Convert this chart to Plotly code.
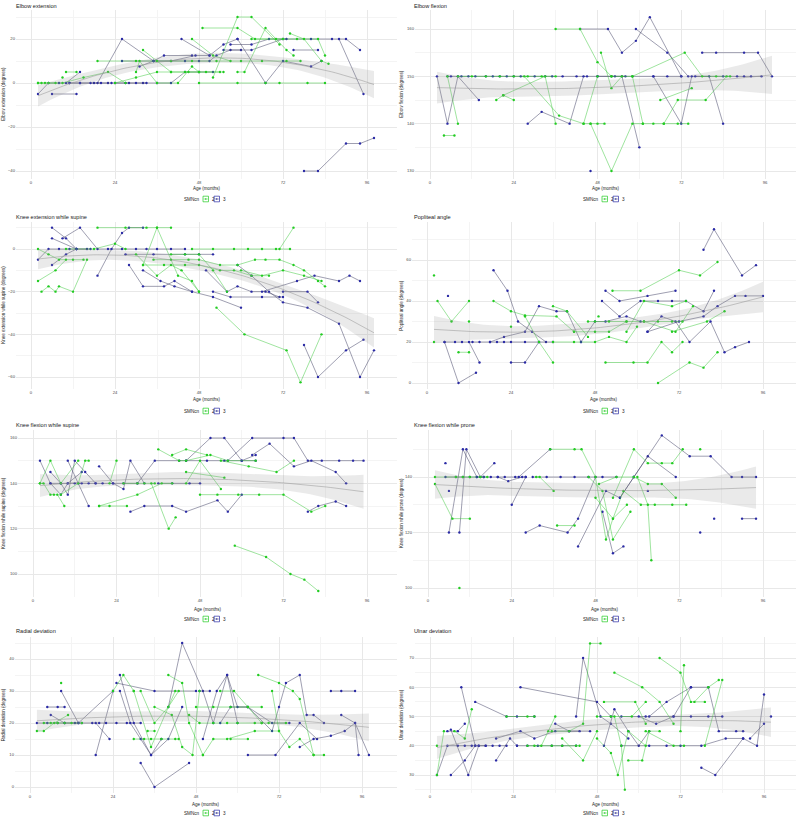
import numpy as np
import plotly.graph_objects as go

W, H = 798, 825
FONT = "Liberation Sans, Arial, sans-serif"

TITLES = ["Elbow extension", "Elbow flexion", "Knee extension while supine", "Popliteal angle",
          "Knee flexion while supine", "Knee flexion while prone", "Radial deviation", "Ulnar deviation"]
YTITLES = [t + " (degrees)" for t in TITLES]
XTITLE = "Age (months)"
LEGEND_TITLE = "SMNcn"
GROUPS = ["2", "3"]

# ---------------- data: (age in months, angle in degrees) per patient ----------------
EE2 = [
    [(2, 0), (3, 0), (4, 0), (5, 0), (7, 0)],
    [(10, 5), (13, 5)],
    [(9, 2.5)],
    [(19, 10), (30, 10), (40, 10), (46, 10), (53, 10), (60, 10), (66, 10), (73, 10), (77, 10)],
    [(30, 5), (31, 10), (36, 0), (42, 0), (46, 7.5), (48, 5), (54, 5)],
    [(32, 15), (36, 10), (40, 5), (45, 5), (50, 5), (55, 5)],
    [(46, 20), (52, 12.5), (57, 10)],
    [(49, 25), (59, 25), (64, 20), (72, 20)],
    [(52, 2.5), (59, 30), (63, 30), (71, 17.5)],
    [(48, 0), (59, 0), (67, 0), (71, 0), (79, 0), (84, 0)],
    [(59, 5), (61, 5), (67, 25), (73, 15), (75, 12.5)],
    [(63, 20), (70, 20), (76, 20), (82, 20), (84, 12.5)],
    [(74, 22.5), (78, 20), (83, 10), (85, 8.75)],
    [(24, 0), (30, 2.5), (36, 5), (40, 5), (44, 5), (48, 5)],
    [(2, 0), (9, 0), (15, 2.5), (22, 5), (27, 0)],
]
EE3 = [
    [(2, -5), (5, 0), (8, 0), (11, 0), (14, 0), (18, 0), (22, 0)],
    [(6, -5), (13, -5)],
    [(10, 0), (14, 5)],
    [(19, 0), (26, 20), (35, 10), (38, 12.5), (46, 12.5)],
    [(26, 10), (35, 10), (44, 10), (48, 10), (51, 10), (53, 12.5), (57, 15), (60, 15)],
    [(24, 0), (28, 0), (32, 0), (36, 0), (40, 0), (44, 5), (48, 5), (52, 5)],
    [(43, 20), (51, 12.5), (55, 17.5), (59, 20)],
    [(59, 20), (67, 0), (72, 10), (80, 7.5), (83, 10)],
    [(55, 15), (63, 15), (72, 20), (80, 20), (86, 20), (90, 20), (94, 15)],
    [(75, 15), (82, 15)],
    [(88, 20), (95, -5)],
    [(78, -40), (82, -40), (90, -27.5), (94, -27.5), (98, -25)],
    [(31, 7.5), (35, 10), (40, 10), (47, 12.5), (51, 12.5)],
    [(57, 17.5), (63, 17.5), (68, 20), (73, 20)],
    [(11, 0), (14, 0), (17, 0), (20, 0), (23, 0), (27, 0), (30, 0), (33, 0)],
]

EF2 = [
    [(4, 137.5), (7, 137.5)],
    [(5, 150), (8, 140)],
    [(19, 145), (21, 146), (24, 145)],
    [(21, 146), (33, 150), (36, 140)],
    [(27, 150), (37, 141.7), (44, 140), (48, 150)],
    [(36, 160), (43, 160), (48, 153), (52, 150)],
    [(49, 155), (52, 147.5), (55, 150)],
    [(46, 140), (52, 130), (58, 140), (61, 140), (64, 140), (67, 140), (71, 140), (74, 140)],
    [(52, 150), (58, 150), (61, 140)],
    [(58, 150), (73, 155), (78, 150), (82, 150), (86, 150)],
    [(66, 145), (75, 147.5)],
    [(67, 140), (71, 145), (79, 145), (85, 150)],
    [(8, 150), (12, 150), (16, 150), (20, 150), (24, 150), (28, 150), (32, 150), (36, 150)],
    [(44, 140), (46, 140), (48, 140), (50, 140)],
]
EF3 = [
    [(2, 150), (5, 140), (8, 150), (14, 145)],
    [(5, 150), (6, 150), (9, 150), (11, 150), (13, 150), (16, 150), (18, 150), (20, 150), (22, 150),
     (24, 150), (26, 150), (30, 150), (33, 150), (35, 150), (38, 150), (42, 150), (45, 150), (48, 150),
     (53, 150), (56, 150)],
    [(28, 140), (32, 142.5), (40, 140), (44, 150)],
    [(43, 160), (51, 160), (55, 155), (59, 157.5), (63, 162.5), (72, 150)],
    [(59, 160), (68, 155), (74, 150)],
    [(55, 150), (60, 135)],
    [(64, 150), (72, 140), (75, 150), (80, 150), (84, 140)],
    [(78, 155), (82, 155), (90, 155), (94, 155), (98, 150)],
    [(46, 130)],
    [(76, 150), (84, 150), (88, 150), (90, 150), (92, 150), (95, 150)],
    [(48, 150), (52, 150), (58, 150), (64, 150), (68, 150), (72, 150)],
]

KES2 = [
    [(2, 0), (5, -2.5), (8, -5), (12, -5), (15, -5)],
    [(2, -15), (7, -10), (10, -5)],
    [(3, -20), (5, -17.5), (7, -20), (8, -17.5), (12, -20), (16, -5)],
    [(19, 10), (27, 10), (33, 10), (36, 10), (40, 10)],
    [(10, 0), (18, 0), (24, 2.5), (27, 0)],
    [(30, -2.5), (36, -12.5), (40, -7.5), (43, -10), (48, -20)],
    [(32, -7.5), (36, 10), (42, -12.5), (46, -15), (48, -20)],
    [(32, -7.5), (38, -7.5), (44, -7.5), (48, -7.5), (54, -10), (58, -10), (63, -12.5), (68, -12.5)],
    [(35, -5), (40, -5), (45, -5), (48, -5), (54, -7.5), (59, -7.5), (64, -5), (67, -5), (71, -5),
     (75, -7.5), (78, -10), (82, -15), (84, -17.5)],
    [(46, 0), (52, 0), (58, 0), (62, 0), (66, 0), (70, 0), (74, 0)],
    [(53, -27.5), (61, -40), (73, -47.5), (77, -62.5), (83, -40)],
    [(71, 0), (75, 10)],
    [(60, -10), (66, -12.5), (72, -10), (78, -12.5), (83, -15)],
    [(40, -2.5), (44, -2.5), (48, -2.5), (52, -10), (56, -20)],
]
KES3 = [
    [(2, -5), (5, 0), (8, 0), (11, 0), (13, 0), (16, 0)],
    [(6, 10), (10, 5), (13, 0), (17, 0)],
    [(6, 5), (13, 0)],
    [(6, -7.5), (10, -2.5), (13, 0)],
    [(9, 5), (14, 10), (19, 0), (22, 0), (26, 0), (30, 0), (33, 0), (36, 0), (40, 0), (44, 0)],
    [(19, -12.5), (23, 0), (26, 7.5), (28, 10), (32, 10)],
    [(28, -7.5), (32, -17.5), (38, -17.5), (41, -15), (46, -20)],
    [(27, -2.5), (35, -2.5), (44, -2.5), (48, -2.5), (52, -2.5)],
    [(32, -10), (37, -15), (41, -17.5), (46, -20), (52, -22.5), (60, -27.5)],
    [(50, -10), (56, -20), (59, -17.5), (63, -20), (67, -20), (71, -22.5)],
    [(52, -20), (57, -22.5), (66, -22.5), (72, -22.5)],
    [(59, -7.5), (63, -12.5), (68, -20), (72, -25), (79, -27.5), (88, -35), (94, -60), (98, -47.5)],
    [(66, -20), (76, -15), (81, -12.5), (88, -15), (91, -12.5), (94, -15)],
    [(72, -20), (79, -20), (82, -25)],
    [(78, -45), (82, -60), (90, -47.5), (95, -42.5)],
]

POP2 = [
    [(2, 52.5)],
    [(2, 20)],
    [(3, 40), (7, 30), (12, 40)],
    [(9, 15), (12, 15)],
    [(12, 30)],
    [(19, 40), (24, 35), (28, 33), (37, 32.5), (42, 25)],
    [(24, 27.5)],
    [(28, 32.5), (32, 20), (36, 10)],
    [(36, 37.5), (40, 35), (46, 22.5)],
    [(36, 20), (42, 20), (48, 20), (52, 22.5), (57, 20), (60, 27.5)],
    [(42, 25), (48, 25), (52, 25), (57, 30)],
    [(46, 30), (48, 30), (52, 30), (57, 30), (62, 30), (66, 30), (70, 30), (73, 30)],
    [(49, 32.5)],
    [(53, 45), (61, 45), (72, 55), (78, 52.5), (83, 59)],
    [(51, 10), (59, 10), (63, 10), (67, 20), (70, 15), (73, 20)],
    [(66, 0), (75, 10), (79, 7.5), (83, 15)],
    [(57, 25), (62, 40), (70, 37.5), (74, 40)],
    [(62, 30), (71, 25), (76, 37.5)],
    [(70, 25), (80, 30), (85, 35)],
]
POP3 = [
    [(5, 20), (9, 0), (14, 5)],
    [(6, 42.5)],
    [(5, 20), (8, 20), (10, 20), (13, 20), (15, 20), (18, 20), (20, 20), (22, 20), (24, 20), (28, 20), (32, 20)],
    [(12, 20), (15, 10)],
    [(19, 55), (23, 45), (26, 30), (30, 25), (34, 20)],
    [(18, 20), (22, 22.5), (28, 25), (32, 37.5), (37, 35), (40, 35), (44, 20)],
    [(24, 10), (28, 10), (32, 20), (36, 20)],
    [(44, 20), (48, 30), (51, 30), (57, 32.5), (61, 30)],
    [(51, 45), (55, 40), (63, 42.5), (71, 45)],
    [(50, 40), (55, 32.5), (61, 40), (66, 40), (70, 40), (74, 40), (79, 35), (82, 45)],
    [(63, 25), (67, 32.5), (71, 30), (75, 20), (81, 30), (85, 15), (88, 17.5), (92, 20)],
    [(63, 25), (72, 30), (79, 32.5), (83, 37.5), (88, 42.5), (91, 42.5), (96, 42.5)],
    [(79, 65), (82, 75), (90, 52.5), (94, 57.5)],
]

KFS2 = [
    [(2, 140), (3, 140), (5, 135), (6, 135), (7, 135), (9, 130)],
    [(2, 140), (5, 150), (8, 140), (13, 150)],
    [(8, 135), (13, 140), (15, 150), (16, 150)],
    [(19, 130), (22, 130), (27, 130)],
    [(22, 140), (24, 150)],
    [(19, 130), (30, 135), (37, 140), (40, 140)],
    [(26, 140), (30, 140), (32, 140), (35, 140)],
    [(36, 155), (42, 150), (44, 150), (51, 152.5), (56, 150), (64, 150)],
    [(34, 140), (39, 120), (41, 125)],
    [(40, 152.5), (44, 155), (50, 152.5)],
    [(44, 145), (55, 142.5)],
    [(44, 140), (48, 150), (54, 137.5)],
    [(48, 135), (53, 135), (59, 135), (65, 135), (72, 135), (80, 127.5), (84, 130)],
    [(58, 112.5), (67, 107.5), (74, 100), (78, 97.5), (82, 92.5)],
    [(54, 150), (62, 147.5), (70, 145), (75, 150)],
]
KFS3 = [
    [(2, 150), (5, 140), (8, 135), (10, 140), (14, 145)],
    [(5, 145), (8, 140), (10, 135), (12, 150), (15, 145), (18, 140)],
    [(5, 140), (8, 140), (10, 140), (12, 140), (14, 140), (16, 140), (18, 140), (20, 140), (23, 140), (26, 140), (30, 140)],
    [(10, 150), (13, 140), (16, 130)],
    [(19, 147.5), (23, 140), (26, 137.5), (28, 150), (32, 140)],
    [(28, 127.5), (32, 130), (40, 130), (44, 127.5), (53, 132.5), (56, 127.5), (60, 135)],
    [(30, 140), (35, 150), (42, 150), (44, 150), (50, 150), (55, 150), (60, 150), (64, 150)],
    [(44, 150), (51, 160), (55, 160), (60, 150), (64, 152.5)],
    [(56, 150), (63, 160), (72, 160), (75, 160), (79, 150), (83, 150), (88, 150), (92, 150), (95, 150)],
    [(63, 152.5), (68, 157.5), (75, 147.5), (80, 150), (87, 145), (90, 140)],
    [(79, 127.5), (82, 130), (87, 132), (90, 130)],
    [(36, 140), (40, 140), (45, 140), (48, 140)],
]

KFP2 = [
    [(2, 137.5), (7, 125), (12, 125)],
    [(9, 100)],
    [(2, 140), (8, 140), (10, 140), (12, 140), (15, 140), (17, 140)],
    [(31, 140), (32, 140), (36, 135)],
    [(35, 150), (42, 150), (44, 150), (48, 140), (51, 117.5), (53, 125), (56, 135), (61, 130), (65, 130),
     (70, 130), (74, 130)],
    [(37, 122.5), (42, 122.5)],
    [(46, 140), (50, 135), (53, 117.5), (58, 127.5)],
    [(49, 137.5), (54, 140), (59, 140), (63, 137.5), (67, 137.5), (71, 132.5)],
    [(53, 132.5), (59, 150), (63, 145), (67, 145), (70, 145), (73, 150)],
    [(60, 140), (63, 130), (64, 110)],
    [(78, 150)],
    [(48, 132.5), (53, 125), (57, 130)],
]
KFP3 = [
    [(5, 145)],
    [(5, 140), (8, 140), (10, 140), (12, 140), (14, 140), (16, 140), (18, 140), (20, 140), (22, 140), (25, 140), (28, 140)],
    [(6, 135)],
    [(6, 120), (10, 150), (14, 140), (16, 140)],
    [(9, 120), (11, 150), (15, 140), (19, 145)],
    [(20, 140), (23, 138.5), (27, 140)],
    [(24, 130), (28, 140)],
    [(28, 120), (32, 122.5), (40, 120), (43, 125), (48, 140)],
    [(26, 140), (35, 150)],
    [(43, 115), (51, 135), (55, 132.5), (59, 140)],
    [(50, 127.5), (53, 112.5), (56, 115)],
    [(55, 132.5), (59, 140), (63, 147.5), (71, 140)],
    [(59, 140), (67, 155), (75, 147.5), (81, 147.5), (87, 140), (90, 140), (94, 140)],
    [(63, 135)],
    [(82, 125)],
    [(78, 120)],
    [(90, 125), (94, 125)],
    [(30, 140), (34, 140), (38, 140), (42, 140), (46, 140), (50, 140), (54, 140)],
]

RD2 = [
    [(2, 17.5), (4, 17.5), (7, 20), (11, 22.5)],
    [(9, 32.5)],
    [(4, 20), (6, 20), (8, 20), (10, 20), (12, 20), (15, 20)],
    [(24, 30), (27, 35), (30, 30)],
    [(30, 15), (33, 15), (35, 15), (38, 15), (42, 15), (43, 15)],
    [(32, 30), (36, 20), (40, 25), (43, 30)],
    [(30, 30), (35, 12.5), (42, 30)],
    [(36, 25), (41, 22.5), (44, 12.5), (47, 10), (49, 30)],
    [(40, 35), (44, 32.5), (46, 20), (50, 10)],
    [(48, 25), (53, 25), (58, 25), (63, 25), (67, 25)],
    [(46, 22.5), (49, 20), (53, 20), (57, 20), (60, 20), (65, 20), (67, 20), (69, 20), (74, 20)],
    [(55, 30), (59, 30), (63, 25), (67, 20)],
    [(58, 15), (63, 15)],
    [(66, 35), (72, 32.5), (76, 30), (78, 27.5), (82, 10), (85, 10)],
    [(70, 30), (72, 17.5), (75, 12.5), (78, 15), (82, 10)],
    [(50, 10), (53, 15), (57, 15), (65, 17.5), (72, 17.5)],
    [(34, 17.5), (36, 17.5)],
]
RD3 = [
    [(2, 20), (5, 20), (8, 20), (10, 20), (13, 20), (15, 20), (18, 20), (20, 20), (22, 20), (25, 20), (28, 20), (32, 20)],
    [(5, 25), (8, 25), (10, 25)],
    [(6, 22.5), (10, 20), (14, 20)],
    [(9, 30), (14, 20), (24, 30)],
    [(19, 10), (24, 30)],
    [(19, 20), (23, 15)],
    [(25, 32.5), (36, 30), (48, 30)],
    [(26, 30), (29, 20), (32, 15), (35, 10), (40, 15), (44, 25)],
    [(26, 35), (30, 20), (35, 10), (38, 15)],
    [(32, 7.5), (36, 0), (46, 7.5)],
    [(40, 25), (44, 45), (50, 30), (53, 20), (57, 35), (60, 20)],
    [(50, 15), (54, 30), (57, 35), (60, 25), (63, 25), (70, 17.5), (72, 25), (74, 32.5), (78, 35),
     (80, 22.5), (82, 22.5), (85, 20)],
    [(49, 30), (52, 30)],
    [(55, 20), (58, 25), (63, 25), (70, 20), (75, 20)],
    [(63, 10), (71, 10), (78, 20), (83, 15)],
    [(78, 12.5), (82, 15), (87, 16), (91, 17.5), (94, 20), (95, 10)],
    [(87, 30), (90, 30), (94, 30)],
    [(90, 22.5), (94, 20), (98, 10)],
]

UD2 = [
    [(2, 40)],
    [(2, 30), (4, 45)],
    [(7, 45), (10, 42.5), (12, 52.5)],
    [(22, 50), (28, 50), (30, 50)],
    [(30, 40), (32, 40), (34, 45), (36, 50)],
    [(28, 40), (35, 40), (38, 40), (42, 40), (43, 40)],
    [(35, 45), (40, 45), (44, 47.5), (46, 75), (49, 75)],
    [(38, 42.5), (44, 35), (48, 45)],
    [(48, 42.5), (52, 37.5), (54, 30), (57, 45), (62, 40)],
    [(53, 65), (61, 60), (66, 55), (70, 47.5)],
    [(48, 50), (52, 50), (58, 50), (62, 55)],
    [(50, 55), (59, 55), (62, 47.5)],
    [(53, 50), (55, 40), (56, 25)],
    [(57, 35), (61, 35), (63, 45), (66, 45)],
    [(66, 70), (72, 65), (75, 55), (79, 55)],
    [(72, 45), (73, 67.5)],
    [(76, 55), (80, 60), (83, 62.5)],
    [(79, 40), (84, 62.5)],
    [(62, 45), (70, 40), (73, 40)],
]
UD3 = [
    [(2, 30), (5, 40), (8, 40), (10, 40), (12, 40), (14, 40), (16, 40), (18, 40), (20, 40), (22, 40)],
    [(5, 45), (8, 45), (10, 47.5)],
    [(6, 45.5), (11, 30), (14, 40), (16, 40)],
    [(6, 30), (10, 35), (13, 40)],
    [(9, 60), (13, 40)],
    [(13, 55), (22, 50), (25, 50), (30, 50)],
    [(19, 35), (23, 42.5), (25, 40)],
    [(19, 42.5), (26, 45), (30, 42.5), (36, 45), (40, 45), (46, 45)],
    [(26, 60), (48, 55), (52, 50)],
    [(25, 40), (28, 40), (31, 40), (35, 40), (38, 40), (42, 40)],
    [(42, 50), (44, 70), (49, 50), (52, 47.5), (57, 42.5)],
    [(36, 47.5), (40, 45), (43, 45)],
    [(50, 40), (53, 52.5), (57, 45), (60, 40), (63, 45)],
    [(55, 50), (62, 50), (70, 50), (75, 50), (80, 50), (84, 50)],
    [(55, 40), (63, 40), (68, 40), (72, 40), (78, 40), (85, 42.5), (90, 42.5)],
    [(60, 50), (65, 47.5), (70, 50), (75, 60), (80, 60), (83, 45), (88, 45), (90, 45)],
    [(78, 32.5), (82, 30), (90, 42.5), (94, 40), (96, 57.5)],
    [(92, 42.5), (96, 47.5)],
    [(98, 50)],
    [(63, 50), (68, 55), (75, 60)],
]

DATA = [(EE2, EE3), (EF2, EF3), (KES2, KES3), (POP2, POP3),
        (KFS2, KFS3), (KFP2, KFP3), (RD2, RD3), (UD2, UD3)]

# ---------------- layout geometry (pixels) ----------------
PANEL_X = [(31, 367), (430, 765), (31, 367), (427, 763), (33, 367), (428, 763), (30, 362), (430, 764)]
PANEL_Y = [((20, 39), (-40, 171)), ((160, 29), (130, 171)), ((0, 249), (-60, 377)), ((60, 260), (0, 383)),
           ((160, 438), (100, 574)), ((140, 477), (100, 588)), ((40, 659), (0, 787)), ((70, 658), (30, 775))]
Y_DTICK = [20, 10, 20, 20, 20, 20, 10, 10]
ROW_TOP = [10, 222, 430, 637]
ROW_BOT = [178.5, 388.5, 597, 792.5]
ROW_TITLE = [6, 217, 425, 631]
ROW_XT = [188.5, 399.5, 609, 804.5]
ROW_LEG = [199, 411, 619, 813]
COL_R = [397, 796]

COL2_LINE = "rgba(60,200,60,0.7)"
COL2_PT = "#22cc22"
COL3_LINE = "rgba(70,70,105,0.75)"
COL3_PT = "#2a2aa5"


def quad_band(xs, ys, n_grid=80):
    """Quadratic least-squares smooth with a 95% confidence band."""
    x = np.asarray(xs, float)
    y = np.asarray(ys, float)
    n = len(x)
    X = np.column_stack([np.ones(n), x, x ** 2])
    beta, *_ = np.linalg.lstsq(X, y, rcond=None)
    res = y - X @ beta
    s2 = np.sum(res ** 2) / (n - 3)
    XtXi = np.linalg.inv(X.T @ X)
    grid = np.linspace(x.min(), x.max(), n_grid)
    G = np.column_stack([np.ones(n_grid), grid, grid ** 2])
    fit = G @ beta
    se = np.sqrt(s2 * np.einsum("ij,jk,ik->i", G, XtXi, G))
    return grid, fit, fit - 1.97 * se, fit + 1.97 * se


def px(xp):
    return xp / W


def py(yp):
    return 1 - yp / H


fig = go.Figure()
layout = dict(width=W, height=H, margin=dict(l=0, r=0, t=0, b=0), paper_bgcolor="white",
              plot_bgcolor="white", showlegend=False, font=dict(family=FONT))
annotations = []
shapes = []

for i, (d2, d3) in enumerate(DATA):
    row, col = i // 2, i % 2
    sfx = "" if i == 0 else str(i + 1)
    xa, ya = "x" + sfx, "y" + sfx

    for trajs, lc, pc in ((d3, COL3_LINE, COL3_PT), (d2, COL2_LINE, COL2_PT)):
        for tr in trajs:
            ax = [p[0] for p in tr]
            av = [p[1] for p in tr]
            fig.add_trace(go.Scatter(x=ax, y=av, mode="lines+markers", xaxis=xa, yaxis=ya,
                                     line=dict(color=lc, width=0.7),
                                     marker=dict(size=2.4, color=pc, line=dict(width=0)),
                                     hoverinfo="skip", showlegend=False))

    allx = [p[0] for tr in d2 + d3 for p in tr]
    ally = [p[1] for tr in d2 + d3 for p in tr]
    g, f, lo, hi = quad_band(allx, ally)
    fig.add_trace(go.Scatter(x=np.r_[g, g[::-1]], y=np.r_[hi, lo[::-1]], fill="toself", mode="lines",
                             fillcolor="rgba(150,150,150,0.2)", line=dict(width=0), xaxis=xa, yaxis=ya,
                             hoverinfo="skip", showlegend=False))
    fig.add_trace(go.Scatter(x=g, y=f, mode="lines", line=dict(color="rgba(150,150,150,0.75)", width=0.7),
                             xaxis=xa, yaxis=ya, hoverinfo="skip", showlegend=False))

    # axes geometry
    x0p, x96p = PANEL_X[i]
    s = (x96p - x0p) / 96.0
    Lp = x0p - 15
    Rp = COL_R[col]
    xr = [-(x0p - Lp) / s, 96 + (Rp - x96p) / s]
    (v1, p1), (v2, p2) = PANEL_Y[i]
    sy = (p2 - p1) / (v1 - v2)
    top, bot = ROW_TOP[row], ROW_BOT[row]
    yr = [v2 - (bot - p2) / sy, v1 + (p1 - top) / sy]

    tickfont = dict(size=4.2, color="#4d4d4d", family=FONT)
    layout["xaxis" + sfx] = dict(domain=[px(Lp), px(Rp)], range=xr, anchor=ya, tickmode="linear", tick0=0,
                                 dtick=24, showgrid=True, gridcolor="#e8e8e8", gridwidth=0.6, zeroline=False,
                                 showline=False, ticks="", tickfont=tickfont, ticklabelstandoff=0,
                                 minor=dict(dtick=12, tick0=0, showgrid=True, gridcolor="#f4f4f4", gridwidth=0.5))
    yd = Y_DTICK[i]
    layout["yaxis" + sfx] = dict(domain=[py(bot), py(top)], range=yr, anchor=xa, tickmode="linear", tick0=0,
                                 dtick=yd, showgrid=True, gridcolor="#e8e8e8", gridwidth=0.6, zeroline=False,
                                 showline=False, ticks="", tickfont=tickfont,
                                 minor=dict(dtick=yd / 2, tick0=0, showgrid=True, gridcolor="#f4f4f4", gridwidth=0.5))

    colx = 0 if col == 0 else 398
    # title
    annotations.append(dict(text=TITLES[i], x=px(colx + 14), y=py(ROW_TITLE[row]), xref="paper", yref="paper",
                            xanchor="left", yanchor="middle", showarrow=False,
                            font=dict(size=5.6, color="#1a1a1a", family=FONT)))
    # x title
    annotations.append(dict(text=XTITLE, x=px((Lp + Rp) / 2), y=py(ROW_XT[row]), xref="paper", yref="paper",
                            xanchor="center", yanchor="middle", showarrow=False,
                            font=dict(size=4.5, color="#1a1a1a", family=FONT)))
    # y title
    annotations.append(dict(text=YTITLES[i], x=px(colx + 3.5), y=py((top + bot) / 2), xref="paper", yref="paper",
                            xanchor="center", yanchor="middle", textangle=-90, showarrow=False,
                            font=dict(size=4.5, color="#1a1a1a", family=FONT)))
    # legend
    cx = 206 if col == 0 else 605
    ly = ROW_LEG[row]
    annotations.append(dict(text=LEGEND_TITLE, x=px(cx - 4), y=py(ly), xref="paper", yref="paper",
                            xanchor="right", yanchor="middle", showarrow=False,
                            font=dict(size=4.6, color="#1a1a1a", family=FONT)))
    for k, (lab, lc, pc, bx) in enumerate(((GROUPS[0], COL2_LINE, COL2_PT, cx - 3),
                                           (GROUPS[1], COL3_LINE, COL3_PT, cx + 8))):
        shapes.append(dict(type="rect", xref="paper", yref="paper", x0=px(bx), x1=px(bx + 5.5),
                           y0=py(ly + 2.8), y1=py(ly - 2.8), line=dict(color=pc, width=0.7),
                           fillcolor="white"))
        shapes.append(dict(type="line", xref="paper", yref="paper", x0=px(bx + 0.6), x1=px(bx + 4.9),
                           y0=py(ly), y1=py(ly), line=dict(color=lc, width=0.7)))
        shapes.append(dict(type="circle", xref="paper", yref="paper", x0=px(bx + 2.0), x1=px(bx + 3.5),
                           y0=py(ly + 0.75), y1=py(ly - 0.75), line=dict(width=0), fillcolor=pc))
        annotations.append(dict(text=lab, x=px(bx + 7), y=py(ly), xref="paper", yref="paper",
                                xanchor="left", yanchor="middle", showarrow=False,
                                font=dict(size=4.6, color="#1a1a1a", family=FONT)))

layout["annotations"] = annotations
layout["shapes"] = shapes
fig.update_layout(**layout)
fig.write_html("out.html")
